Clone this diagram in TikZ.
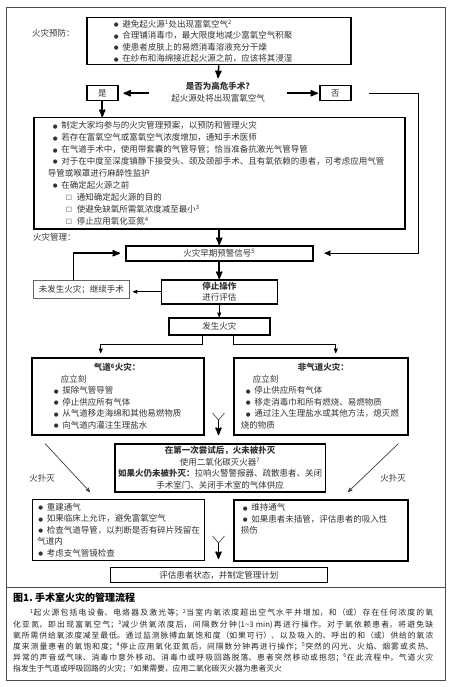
\documentclass[tikz,border=0pt]{standalone}
\usepackage{fontspec}
\setmainfont{Noto Sans CJK SC}
\newfontfamily\symf{DejaVu Sans}
\usetikzlibrary{arrows}
\newcommand\fs{\fontsize{8.5pt}{11.5pt}\selectfont}
\newcommand\ind[1]{\leavevmode\kern#1\relax}
\newcommand\bul{\makebox[8.5pt][l]{\raisebox{0.6pt}{\symf\fontsize{5.5pt}{6pt}\selectfont ●}}}
\newcommand\sqr{\makebox[11pt][l]{\raisebox{0.4pt}{\symf\fontsize{6.5pt}{6pt}\selectfont □}}}

\begin{document}
\begin{tikzpicture}[x=1pt,y=-1pt,
  box/.style={draw=black, line width=1.5pt, anchor=north west, inner ysep=0pt, font=\fs, text=black!80},
  thinbox/.style={box, line width=0.9pt},
  lbl/.style={font=\fs, text=black!80, inner sep=0pt},
  arr/.style={->, >=stealth', line width=0.7pt},
  tarr/.style={->, >=stealth', line width=1.6pt}]
\useasboundingbox (0,0) rectangle (448,687);
\fill[white] (0,0) rectangle (448,687);
\draw[black!70, line width=0.8pt] (6,7) rectangle (445,680);
\draw[black!70, line width=0.8pt] (6,587) -- (445,587);

% prevention
\node[lbl, anchor=west] (prevlbl) at (32,33) {火灾预防：};
\node[box, minimum width=264pt, minimum height=47pt, text width=210pt, inner xsep=27pt, align=left] (prev) at (86,17)
 {\bul 避免起火源\textsuperscript{1}处出现富氧空气\textsuperscript{2}\\
  \bul 合理铺消毒巾，最大限度地减少富氧空气积聚\\
  \bul 使患者皮肤上的易燃消毒溶液充分干燥\\
  \bul 在纱布和海绵接近起火源之前，应该将其浸湿};
\node[lbl, align=center, inner xsep=22pt, inner ysep=4pt] (q) at (218,92)
 {\textbf{是否为高危手术?}\\起火源处将出现富氧空气};
\node[box, minimum width=31pt, minimum height=15pt] (yes) at (86,85) {是};
\node[box, minimum width=31pt, minimum height=15pt] (no) at (319,85) {否};
\node[box, minimum width=371pt, minimum height=111pt, text width=343pt, inner xsep=14pt, align=left,
  font=\fontsize{8.5pt}{11.9pt}\selectfont] (sec) at (33,117)
 {\ind{5pt}\bul 制定大家均参与的火灾管理预案，以预防和管理火灾\\
  \ind{5pt}\bul 若存在富氧空气或富氧空气浓度增加，通知手术医师\\
  \ind{5pt}\bul 在气道手术中，使用带套囊的气管导管；恰当准备抗激光气管导管\\
  \ind{5pt}\bul 对于在中度至深度镇静下接受头、颈及颈部手术、且有氧依赖的患者，可考虑应用气管\\
  导管或喉罩进行麻醉性监护\\
  \ind{5pt}\bul 在确定起火源之前\\
  \ind{18pt}\sqr 通知确定起火源的目的\\
  \ind{18pt}\sqr 使避免缺氧所需氧浓度减至最小\textsuperscript{3}\\
  \ind{18pt}\sqr 停止应用氧化亚氮\textsuperscript{4}};

% management
\node[lbl, anchor=west] (mgmtlbl) at (33,237) {火灾管理：};
\node[box, minimum width=187pt, minimum height=15pt] (warn) at (125,245) {火灾早期预警信号\textsuperscript{5}};
\node[box, minimum width=116pt, minimum height=24pt, align=center] (stop) at (160.5,279) {\textbf{停止操作}\\进行评估};
\node[thinbox, draw=black!60, minimum width=96pt, minimum height=18pt] (nofire) at (33,280) {未发生火灾；继续手术};
\node[box, minimum width=101pt, minimum height=17pt] (fire) at (168,317) {发生火灾};
\node[box, minimum width=172pt, minimum height=77pt, text width=140pt, inner xsep=16pt, align=left] (air) at (31,357)
 {\ind{46pt}\textbf{气道\textsuperscript{6}火灾：}\\
  \ind{13pt}应立刻\\
  \ind{6pt}\bul 拔除气管导管\\
  \ind{6pt}\bul 停止供应所有气体\\
  \ind{6pt}\bul 从气道移走海绵和其他易燃物质\\
  \ind{6pt}\bul 向气道内灌注生理盐水};
\node[box, minimum width=174pt, minimum height=77pt, text width=160pt, inner xsep=7pt, align=left] (nonair) at (233,357)
 {\ind{57pt}\textbf{非气道火灾：}\\
  \ind{12pt}应立刻\\
  \ind{5pt}\bul 停止供应所有气体\\
  \ind{5pt}\bul 移走消毒巾和所有燃烧、易燃物质\\
  \ind{5pt}\bul 通过注入生理盐水或其他方法，熄灭燃\\
  烧的物质};
\node[box, minimum width=209pt, minimum height=48pt, align=center,
  font=\fontsize{8.5pt}{11.7pt}\selectfont] (ext) at (114,443)
 {\textbf{在第一次尝试后，火未被扑灭}\\
  使用二氧化碳灭火器\textsuperscript{7}\\
  \textbf{如果火仍未被扑灭：}拉响火警警报器、疏散患者、关闭\\
  手术室门、关闭手术室的气体供应};
\node[thinbox, minimum width=172pt, minimum height=61pt, text width=162pt, inner xsep=5pt, align=left] (rebuild) at (32,499)
 {\ind{1pt}\bul 重建通气\\
  \ind{1pt}\bul 如果临床上允许，避免富氧空气\\
  \ind{1pt}\bul 检查气道导管，以判断是否有碎片残留在\\
  气道内\\
  \ind{1pt}\bul 考虑支气管镜检查};
\node[box, minimum width=174pt, minimum height=61pt, text width=160pt, inner xsep=7pt, align=left] (vent) at (233,499)
 {\ind{2pt}\bul 维持通气\\
  \ind{2pt}\bul 如果患者未插管，评估患者的吸入性\\
  损伤\\ \mbox{}\\ \mbox{}};
\node[thinbox, minimum width=217pt, minimum height=15pt] (eval) at (110,567) {评估患者状态，并制定管理计划};
\node[lbl] (out1) at (42,478) {火扑灭};
\node[lbl] (out2) at (393,478) {火扑灭};

% connectors
\draw[tarr] (prev.south) -- (q.north);
\draw[tarr, shorten >=5pt] (q.west |- yes.east) -- (yes.east);
\draw[tarr, shorten >=1pt] (q.east |- no.west) -- (no.west);
\draw[->, >=stealth', line width=1.2pt, shorten <=17pt, shorten >=11pt] (no.east) -- ++(67,0) |- (warn.east);
\draw[tarr] (yes.south) -- (yes.south |- sec.north);
\draw[tarr] (sec.south) -- (warn.north);
\draw[tarr] (warn.south) -- (stop.north);
\draw[arr, shorten >=3pt] (stop.west) -- (stop.west -| nofire.east);
\draw[tarr, shorten >=5pt] ([xshift=-8pt]nofire.north) |- (warn.west);
\draw[arr] (stop.south) -- (fire.north);
\draw[arr, shorten >=4pt] ([xshift=-16.5pt]fire.south) -- ++(0,9) -| ([xshift=-17pt]air.north);
\draw[arr, shorten >=4pt] ([xshift=14.5pt]fire.south) -- ++(0,9) -| ([xshift=15pt]nonair.north);
\draw[arr, black!75] ([shift={(14,8)}]air.south west) -- ([shift={(58,-7)}]rebuild.north west);
\draw[arr, black!75] ([shift={(-10,8)}]nonair.south east) -- ([shift={(115,-7)}]vent.north west);

% merge marks
\coordinate (m1) at (218.5,420);
\coordinate (m2) at (218.5,543);
\foreach \m/\t in {m1/ext, m2/eval} {
 \draw[line width=0.6pt, black!75] (\m) -- ++(-6,-7) (\m) -- ++(6,-7);
 \draw[tarr, shorten >=8pt] (\m) -- (\m |- \t.north);
}

% caption
\node[anchor=west, inner sep=0pt, font=\fontsize{10pt}{12pt}\selectfont\bfseries] (cap) at (13,598) {图1.\ 手术室火灾的管理流程};
\node[anchor=north west, inner sep=0pt, text width=420pt, align=justify, text=black!85,
  font=\fontsize{7.8pt}{11.2pt}\selectfont] (notes) at (13,609)
 {\XeTeXlinebreaklocale "zh"\XeTeXlinebreakskip=0pt plus 2pt\noindent\kern17pt
  \textsuperscript{1}起火源包括电设备、电烙器及激光等；\textsuperscript{2}当室内氧浓度超出空气水平并增加，和（或）存在任何浓度的氧\linebreak
  化亚氮，即出现富氧空气；\textsuperscript{3}减少供氧浓度后，间隔数分钟(1\textasciitilde3 min)再进行操作。对于氧依赖患者，将避免缺\linebreak
  氧所需供给氧浓度减至最低。通过监测脉搏血氧饱和度（如果可行）、以及吸入的、呼出的和（或）供给的氧浓\linebreak
  度来测量患者的氧饱和度；\textsuperscript{4}停止应用氧化亚氮后，间隔数分钟再进行操作；\textsuperscript{5}突然的闪光、火焰、烟雾或炙热、\linebreak
  异常的声音或气味、消毒巾意外移动、消毒巾或呼吸回路脱落、患者突然移动或抱怨；\textsuperscript{6}在此流程中，气道火灾\linebreak
  指发生于气道或呼吸回路的火灾；\textsuperscript{7}如果需要，应用二氧化碳灭火器为患者灭火};
\end{tikzpicture}
\end{document}
